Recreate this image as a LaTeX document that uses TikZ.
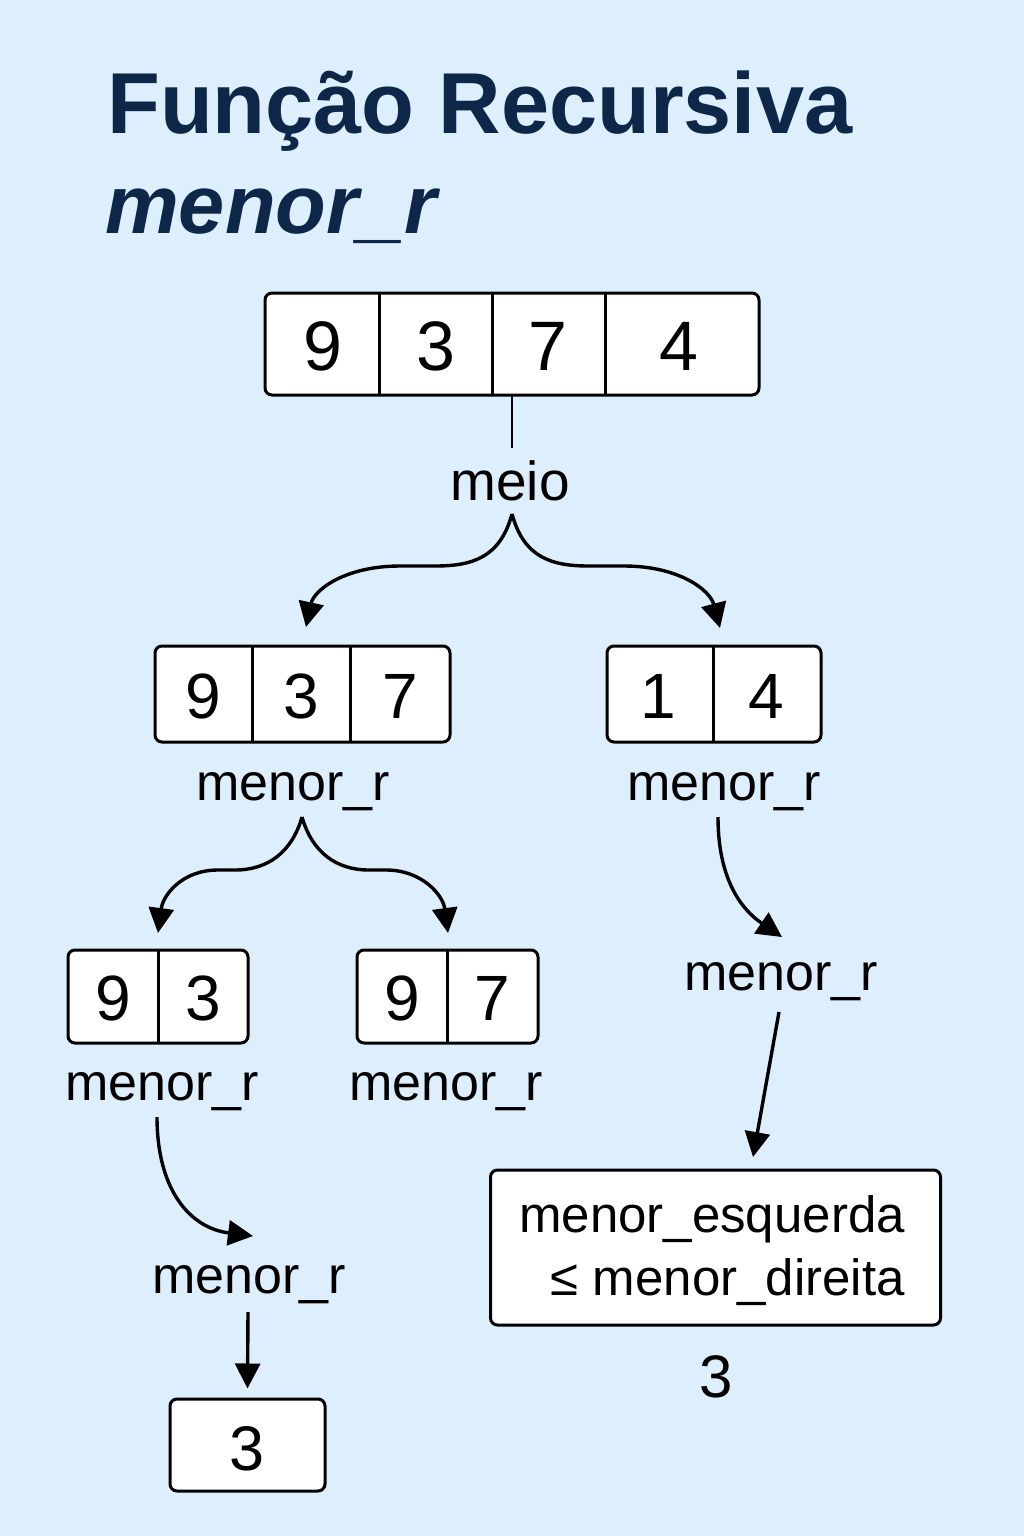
\documentclass[tikz,border=0pt]{standalone}
\usepackage{fontspec}
\setmainfont{Liberation Sans}
\usetikzlibrary{arrows.meta}
\definecolor{bg}{HTML}{DDEEFC}
\definecolor{navy}{HTML}{0E2748}
\begin{document}
\begin{tikzpicture}[x=1pt,y=-1pt,
  box/.style={draw=black,fill=white,line width=3pt,rounded corners=7pt,inner sep=0pt},
  dig/.style={anchor=base,inner sep=0pt},
  lbl/.style={anchor=base,inner sep=0pt,font=\fontsize{52}{60}\selectfont},
  conn/.style={line width=3.4pt,-{Triangle[length=25pt,width=25pt]}},
  divl/.style={line width=3pt}
]
\fill[bg] (0,0) rectangle (1024,1536);
\useasboundingbox (0,0) rectangle (1024,1536);
% title
\node[anchor=base west,inner sep=0pt,text=navy,font=\fontsize{86.5}{100}\selectfont\bfseries] (t1) at (107,133) {Função Recursiva};
\node[anchor=base west,inner sep=0pt,text=navy,font=\fontsize{83}{100}\selectfont\bfseries\itshape] (t2) at (105,233) {menor\_r};
% top array
\node[box,minimum width=494pt,minimum height=102pt] (top) at (512,344) {};
\draw[divl] (379,293) -- (379,395) (492,293) -- (492,395) (605,293) -- (605,395);
\begin{scope}[every node/.style={dig,font=\fontsize{70}{80}\selectfont}]
\node (a1) at (323,370) {9};
\node (a2) at (436,370) {3};
\node (a3) at (548,370) {7};
\node (a4) at (679,370) {4};
\end{scope}
\node[lbl,font=\fontsize{55}{60}\selectfont] (meio) at (510,500) {meio};
\coordinate (topS) at (512,395);
\coordinate (meioN) at (512,448);
\draw[line width=2.4pt] (topS) -- (meioN);
\coordinate (f1) at (512,514);
% level 2 left
\node[box,minimum width=295pt,minimum height=96pt] (L) at (302.5,694) {};
\draw[divl] (252,646) -- (252,742) (350,646) -- (350,742);
\begin{scope}[every node/.style={dig,font=\fontsize{64}{70}\selectfont}]
\node (l1) at (203,718) {9};
\node (l2) at (301,718) {3};
\node (l3) at (400,718) {7};
\end{scope}
\node[lbl] (Llbl) at (293,800) {menor\_r};
% level 2 right
\node[box,minimum width=214pt,minimum height=96pt] (R) at (714,694) {};
\draw[divl] (713,646) -- (713,742);
\begin{scope}[every node/.style={dig,font=\fontsize{64}{70}\selectfont}]
\node (r1) at (658,718) {1};
\node (r2) at (766,718) {4};
\end{scope}
\node[lbl] (Rlbl) at (724,800) {menor\_r};
% fork from meio
\draw[conn] (f1) .. controls (500,558) and (472,566) .. (435,566) -- (400,566) .. controls (345,566) and (314,590) .. (306,627);
\draw[conn] (f1) .. controls (524,558) and (552,566) .. (589,566) -- (624,566) .. controls (679,566) and (710,590) .. (720,628);
% level 3
\node[box,minimum width=180pt,minimum height=93pt] (LL) at (158,996.5) {};
\draw[divl] (158,950) -- (158,1043);
\begin{scope}[every node/.style={dig,font=\fontsize{64}{70}\selectfont}]
\node (ll1) at (113,1020) {9};
\node (ll2) at (203,1020) {3};
\end{scope}
\node[lbl] (LLlbl) at (162,1100) {menor\_r};
\node[box,minimum width=181pt,minimum height=93pt] (LR) at (447.5,996.5) {};
\draw[divl] (447,950) -- (447,1043);
\begin{scope}[every node/.style={dig,font=\fontsize{64}{70}\selectfont}]
\node (lr1) at (402,1020) {9};
\node (lr2) at (492,1020) {7};
\end{scope}
\node[lbl] (LRlbl) at (446,1100) {menor\_r};
% fork from left menor_r
\coordinate (f2) at (302,817);
\draw[conn] (f2) .. controls (292,852) and (268,870) .. (235,870) -- (218,870) .. controls (182,870) and (163,895) .. (158,933);
\draw[conn] (f2) .. controls (312,852) and (336,870) .. (369,870) -- (386,870) .. controls (422,870) and (443,895) .. (448,933);
% right chain
\coordinate (f3) at (718,817);
\node[lbl] (Rm) at (781,990) {menor\_r};
\draw[conn] (f3) .. controls (718,870) and (735,905) .. (782,937);
\coordinate (f4) at (779,1012);
\node[box,minimum width=450pt,minimum height=155pt] (cmp) at (715.5,1247.5) {};
\node[anchor=base east,inner sep=0pt,font=\fontsize{51}{60}\selectfont] (c1) at (905,1232) {menor\_esquerda};
\node[anchor=base east,inner sep=0pt,font=\fontsize{51}{60}\selectfont] (c2) at (905,1295) {≤ menor\_direita};
\draw[conn] (f4) -- (753,1157);
\node[dig,font=\fontsize{60}{70}\selectfont] (res) at (716,1397) {3};
% left chain
\coordinate (f5) at (157,1117);
\node[lbl] (LLm) at (249,1293) {menor\_r};
\draw[conn] (f5) .. controls (157,1190) and (190,1228) .. (253,1236);
\coordinate (f6) at (248,1312);
\node[box,minimum width=155pt,minimum height=92pt] (res2) at (247.5,1445) {};
\node[dig,font=\fontsize{63}{70}\selectfont] (res2t) at (247,1470) {3};
\draw[conn] (f6) -- ([yshift=9pt]res2.north);
\end{tikzpicture}
\end{document}
